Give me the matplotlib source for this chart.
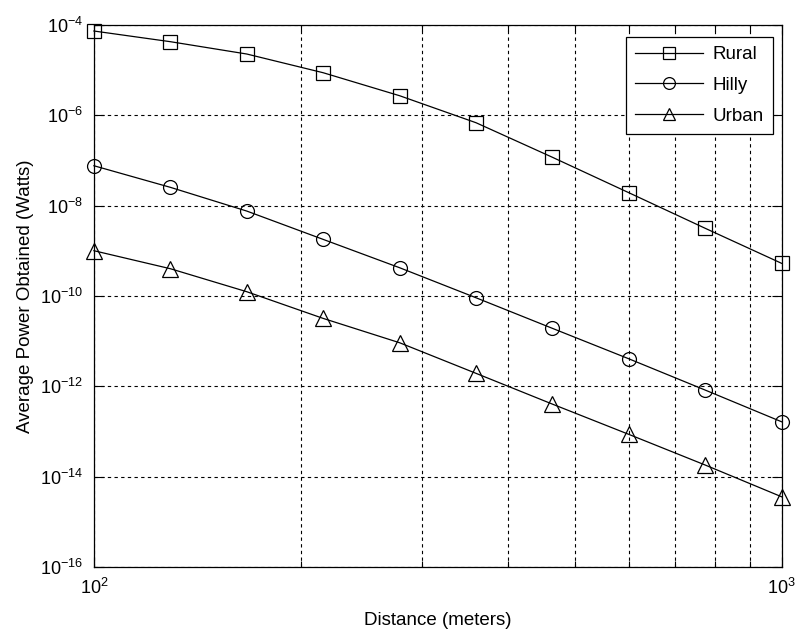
from matplotlib import pyplot as plt
from matplotlib.ticker import LogLocator, NullLocator, NullFormatter
import numpy as np

plt.rcParams["font.family"] = ["Liberation Sans", "DejaVu Sans"]
plt.rcParams["mathtext.fontset"] = "custom"
plt.rcParams["mathtext.rm"] = "Liberation Sans"
plt.rcParams["mathtext.it"] = "Liberation Sans"

distancia = [100, 129.2, 166.8, 215.4, 278.3, 359.4, 464.2, 599.5, 774.3, 1000]
rural = [7.36e-5, 4.27e-5, 2.28e-5, 8.79e-6, 2.72e-6, 6.87e-7, 1.18e-7, 1.94e-8, 3.16e-9, 5.30e-10]
hilly = [7.67e-8, 2.55e-8, 7.62e-9, 1.80e-9, 4.24e-10, 9.18e-11, 1.93e-11, 4.09e-12, 8.30e-13, 1.65e-13]
urban = [1.01e-9, 4.03e-10, 1.25e-10, 3.21e-11, 9.27e-12, 1.95e-12, 4.06e-13, 8.69e-14, 1.82e-14, 3.61e-15]
y_ticks = [1e-16, 1e-14, 1e-12, 1e-10, 1e-8, 1e-6, 1e-4]

figure = plt.figure(figsize = (7.96, 6.33), dpi = 100)
ax = figure.add_axes([0.118, 0.104, 0.864, 0.8565])

estilo = dict(color = "black", linewidth = 0.9, markerfacecolor = "none",
              markeredgecolor = "black", markeredgewidth = 0.9, clip_on = False)
ax.loglog(distancia, rural, marker = "s", markersize = 10.5, label = "Rural", **estilo)
ax.loglog(distancia, hilly, marker = "o", markersize = 10, label = "Hilly", **estilo)
ax.loglog(distancia, urban, marker = "^", markersize = 11, label = "Urban", **estilo)

ax.set_xlim(100, 1000)
ax.set_ylim(1e-16, 1e-4)
ax.set_yticks(y_ticks)
ax.yaxis.set_minor_locator(NullLocator())
ax.xaxis.set_minor_locator(LogLocator(base = 10, subs = np.arange(2, 10)))
ax.xaxis.set_minor_formatter(NullFormatter())

ax.tick_params(which = "both", direction = "in", top = True, right = True,
               labelsize = 13, colors = "black", pad = 8)
ax.tick_params(which = "major", length = 7, width = 0.8)
ax.tick_params(which = "minor", length = 4, width = 0.8)
for spine in ax.spines.values():
    spine.set_linewidth(0.9)

ax.grid(True, which = "major", axis = "y", color = "black", linestyle = (0, (3, 3)), linewidth = 0.8)
ax.grid(True, which = "both", axis = "x", color = "black", linestyle = (0, (3, 3)), linewidth = 0.8)
ax.set_axisbelow(True)

ax.set_xlabel("Distance (meters)", fontsize = 13.5, labelpad = 10)
ax.set_ylabel("Average Power Obtained (Watts)", fontsize = 13.5, labelpad = 4)

leg = ax.legend(loc = "upper right", bbox_to_anchor = (0.987, 0.978), fontsize = 13.5,
                fancybox = False, framealpha = 1, edgecolor = "black",
                borderaxespad = 0, borderpad = 0.5, handlelength = 3.6,
                handletextpad = 0.5, labelspacing = 0.72, markerscale = 0.85)
leg.get_frame().set_linewidth(0.9)

plt.savefig("out.png", dpi = 100)
